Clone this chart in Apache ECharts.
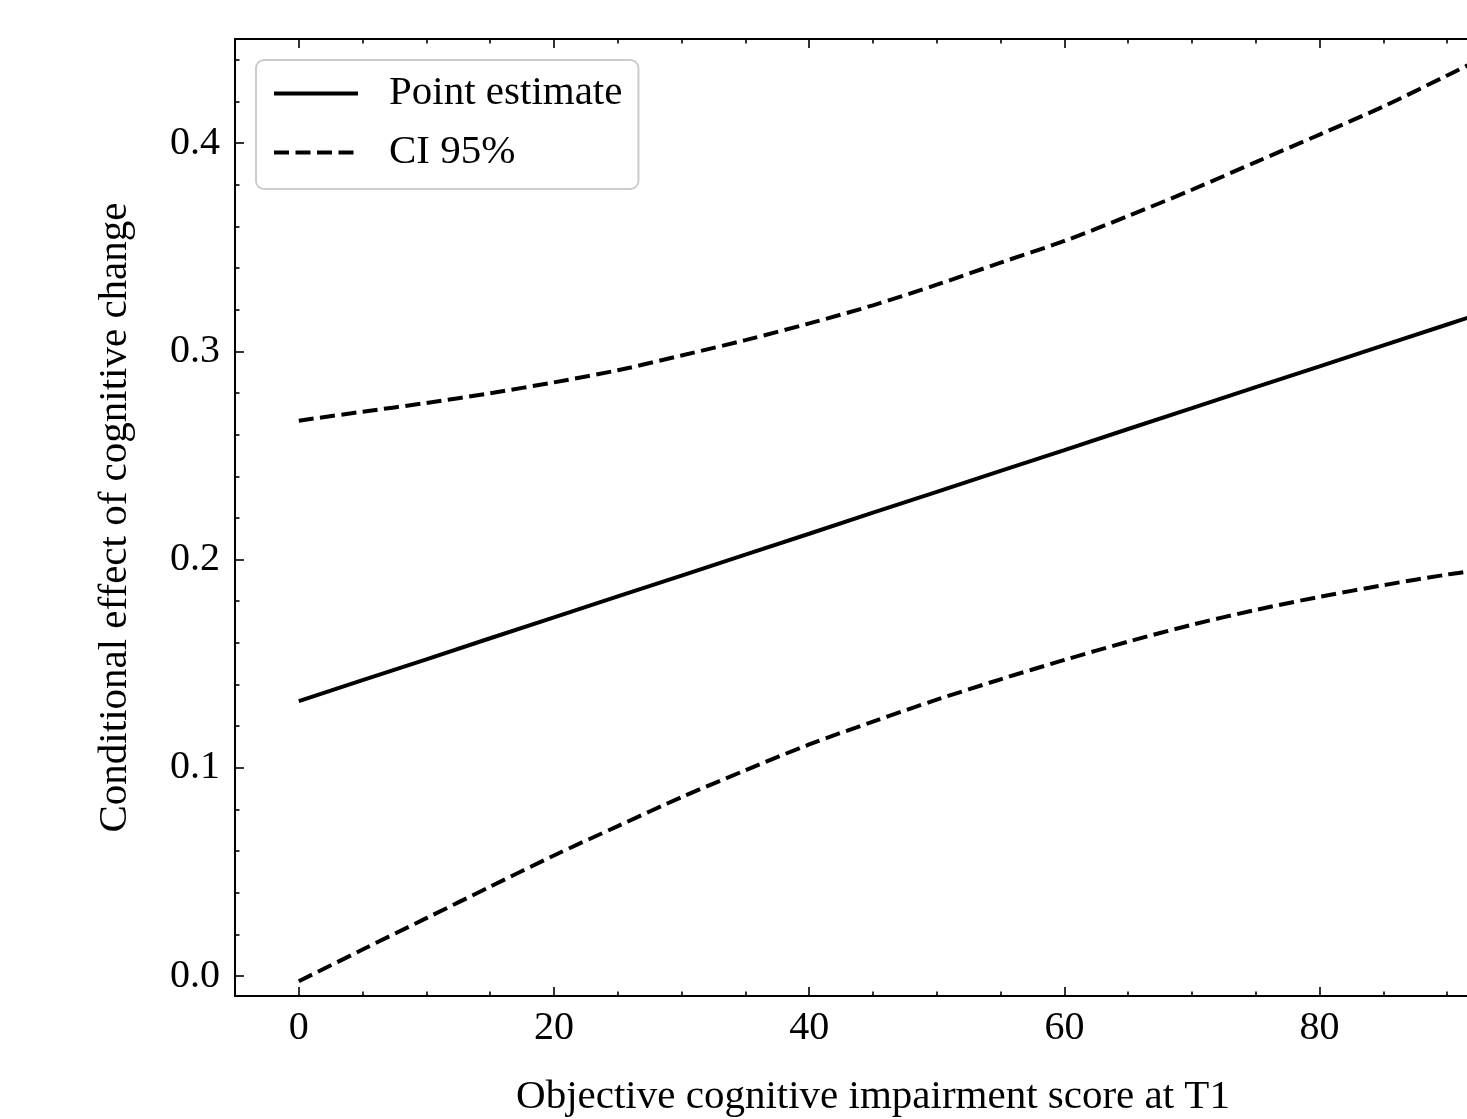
<!DOCTYPE html>
<html>
<head>
<meta charset="utf-8">
<script src="https://cdn.jsdelivr.net/npm/echarts@6/dist/echarts.min.js"></script>
<style>
html,body{margin:0;padding:0;background:#fff;}
#chart{width:1467px;height:1119px;}
</style>
</head>
<body>
<div id="chart"></div>
<script>
// x positions (Objective cognitive impairment score at T1)
const xValues = [0, 5, 10, 15, 20, 25, 30, 35, 40, 45, 50, 55, 60, 65, 70, 75, 80, 85, 90, 92];
// Point estimate
const pointEstimate = [0.1320, 0.1421, 0.1521, 0.1622, 0.1722, 0.1823, 0.1923, 0.2024, 0.2124, 0.2225, 0.2325, 0.2426, 0.2526, 0.2627, 0.2727, 0.2828, 0.2928, 0.3029, 0.3129, 0.3169];
// CI 95% upper bound
const ciUpper = [0.2667, 0.2710, 0.2752, 0.2799, 0.2851, 0.2909, 0.2980, 0.3054, 0.3134, 0.3221, 0.3320, 0.3426, 0.3530, 0.3650, 0.3776, 0.3909, 0.4041, 0.4176, 0.4325, 0.4385];
// CI 95% lower bound
const ciLower = [-0.0025, 0.0127, 0.0278, 0.0429, 0.0579, 0.0720, 0.0859, 0.0988, 0.1112, 0.1222, 0.1327, 0.1425, 0.1518, 0.1606, 0.1687, 0.1758, 0.1821, 0.1877, 0.1928, 0.1945];

// ticks
const xMajorTicks = [0, 20, 40, 60, 80];
const xMinorTicks = [5, 10, 15, 25, 30, 35, 45, 50, 55, 65, 70, 75, 85, 90];
const yMajorTicks = [0, 0.1, 0.2, 0.3, 0.4];
const yMinorTicks = [0.02, 0.04, 0.06, 0.08, 0.12, 0.14, 0.16, 0.18, 0.22, 0.24, 0.26, 0.28, 0.32, 0.34, 0.36, 0.38, 0.42, 0.44];

const xTitle = 'Objective cognitive impairment score at T1';
const yTitle = 'Conditional effect of cognitive change';
const seriesNames = ['Point estimate', 'CI 95%'];

const X_MIN = -5, X_MAX = 95, Y_MIN = -0.0096, Y_MAX = 0.45;
const FONT = '"Liberation Serif", "Times New Roman", serif';
const black = '#000000';

function zip(xs, ys) { return xs.map((x, i) => [x, ys[i]]); }

function xAxisDef(pos, ticks, len, opts) {
  return Object.assign({
    type: 'value', gridIndex: 0, position: pos, min: X_MIN, max: X_MAX,
    axisLine: { show: false, onZero: false, lineStyle: { color: black, width: 2 } },
    axisTick: { show: true, inside: true, length: len, customValues: ticks, lineStyle: { color: black, width: 1.6 } },
    axisLabel: { show: false },
    splitLine: { show: false }
  }, opts || {});
}
function yAxisDef(pos, ticks, len, opts) {
  return Object.assign({
    type: 'value', gridIndex: 0, position: pos, min: Y_MIN, max: Y_MAX,
    axisLine: { show: false, onZero: false, lineStyle: { color: black, width: 2 } },
    axisTick: { show: true, inside: true, length: len, customValues: ticks, lineStyle: { color: black, width: 1.6 } },
    axisLabel: { show: false },
    splitLine: { show: false }
  }, opts || {});
}

const chart = echarts.init(document.getElementById('chart'), null, { renderer: 'canvas' });

const option = {
  animation: false,
  backgroundColor: '#ffffff',
  textStyle: { fontFamily: FONT },
  grid: { left: 235, top: 39, width: 1276, height: 957, containLabel: false, outerBoundsMode: 'none' },
  legend: {
    left: 256, top: 60, orient: 'vertical',
    data: seriesNames,
    itemWidth: 84, itemHeight: 20, itemGap: 18,
    padding: [13, 16, 16, 16],
    backgroundColor: 'rgba(255,255,255,0.8)',
    borderColor: '#cccccc', borderWidth: 2, borderRadius: 8,
    itemStyle: { opacity: 0 },
    lineStyle: { width: 4 },
    textStyle: { fontFamily: FONT, fontSize: 41, color: black, padding: [0, 0, 0, 26], lineHeight: 41 }
  },
  xAxis: [
    xAxisDef('bottom', xMajorTicks, 9, {
      axisLine: { show: true, onZero: false, lineStyle: { color: black, width: 2 } },
      axisLabel: { show: true, customValues: xMajorTicks, color: black, fontSize: 40, fontFamily: FONT, margin: 12,
        formatter: v => String(Math.round(v)) },
      name: xTitle, nameLocation: 'middle', nameGap: 81,
      nameTextStyle: { fontFamily: FONT, fontSize: 41, color: black }
    }),
    xAxisDef('bottom', xMinorTicks, 4.5),
    xAxisDef('top', xMajorTicks, 9, { axisLine: { show: true, onZero: false, lineStyle: { color: black, width: 2 } } }),
    xAxisDef('top', xMinorTicks, 4.5)
  ],
  yAxis: [
    yAxisDef('left', yMajorTicks, 9, {
      axisLine: { show: true, onZero: false, lineStyle: { color: black, width: 2 } },
      axisLabel: { show: true, customValues: yMajorTicks, color: black, fontSize: 40, fontFamily: FONT, margin: 15,
        formatter: v => v.toFixed(1) },
      name: yTitle, nameLocation: 'middle', nameGap: 99, nameRotate: 90,
      nameTextStyle: { fontFamily: FONT, fontSize: 41, color: black }
    }),
    yAxisDef('left', yMinorTicks, 4.5),
    yAxisDef('right', yMajorTicks, 9, { axisLine: { show: true, onZero: false, lineStyle: { color: black, width: 2 } } }),
    yAxisDef('right', yMinorTicks, 4.5)
  ],
  series: [
    {
      name: seriesNames[0], type: 'line', xAxisIndex: 0, yAxisIndex: 0,
      data: zip(xValues, pointEstimate), showSymbol: false, symbol: 'none',
      lineStyle: { color: black, width: 4, type: 'solid' }, itemStyle: { color: black }
    },
    {
      name: seriesNames[1], type: 'line', xAxisIndex: 0, yAxisIndex: 0,
      data: zip(xValues, ciUpper), showSymbol: false, symbol: 'none', smooth: 0.3,
      lineStyle: { color: black, width: 4, type: [15, 6.5] }, itemStyle: { color: black }
    },
    {
      name: seriesNames[1], type: 'line', xAxisIndex: 0, yAxisIndex: 0,
      data: zip(xValues, ciLower), showSymbol: false, symbol: 'none', smooth: 0.3,
      lineStyle: { color: black, width: 4, type: [15, 6.5] }, itemStyle: { color: black }
    }
  ]
};
chart.setOption(option);
</script>
</body>
</html>
